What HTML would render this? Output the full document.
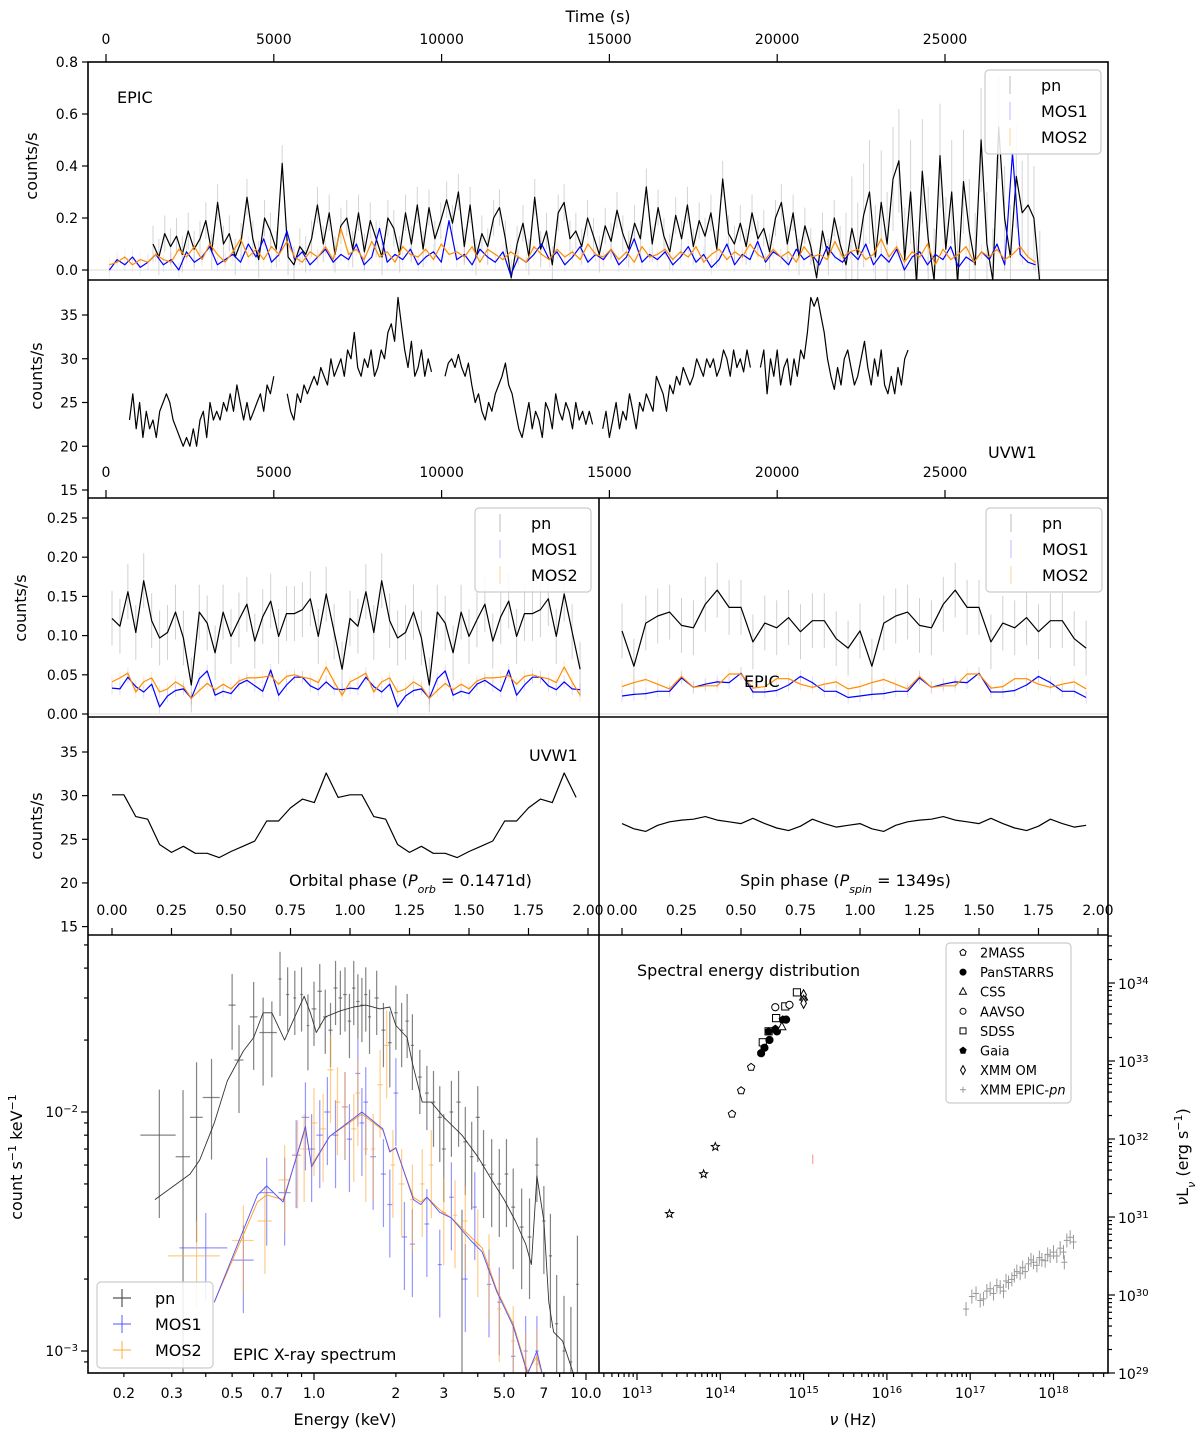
<!DOCTYPE html>
<html><head><meta charset="utf-8"><style>
html,body{margin:0;padding:0;background:#fff;width:1200px;height:1440px;overflow:hidden}
svg{display:block;font-family:"DejaVu Sans","Liberation Sans",sans-serif;overflow:hidden}
</style></head><body>
<svg id="fig" xmlns="http://www.w3.org/2000/svg" width="1200" height="1440" viewBox="0 0 1200 1440" overflow="hidden">
<defs>
<clipPath id="cTop"><rect x="88" y="62" width="1020" height="218"/></clipPath>
<clipPath id="cUv"><rect x="88" y="280" width="1020" height="218"/></clipPath>
<clipPath id="cPL"><rect x="88" y="498" width="511" height="437"/></clipPath>
<clipPath id="cPR"><rect x="599" y="498" width="509" height="437"/></clipPath>
<clipPath id="cSp"><rect x="88" y="935" width="511" height="438"/></clipPath>
<clipPath id="cSed"><rect x="599" y="935" width="509" height="438"/></clipPath>
</defs>
<g id="marks"></g>
<g id="ticks"></g>
<g fill="none" stroke="#000" stroke-width="1.6">
<rect x="88" y="62" width="1020" height="1311"/>
<line x1="88" y1="280" x2="1108" y2="280"/>
<line x1="88" y1="498" x2="1108" y2="498"/>
<line x1="88" y1="717" x2="1108" y2="717"/>
<line x1="88" y1="935" x2="1108" y2="935"/>
<line x1="599" y1="498" x2="599" y2="1373"/>
</g>
<g font-size="16" fill="#000">
<text x="598" y="22" text-anchor="middle">Time (s)</text>
<text x="117" y="103">EPIC</text>
<text x="988" y="458">UVW1</text>
<text x="529" y="761">UVW1</text>
<text x="744" y="687">EPIC</text>
<text x="289" y="886">Orbital phase (<tspan font-style="italic">P</tspan><tspan font-size="11" baseline-shift="sub" font-style="italic">orb</tspan> = 0.1471d)</text>
<text x="740" y="886">Spin phase (<tspan font-style="italic">P</tspan><tspan font-size="11" baseline-shift="sub" font-style="italic">spin</tspan> = 1349s)</text>
<text x="233" y="1360">EPIC X-ray spectrum</text>
<text x="637" y="976">Spectral energy distribution</text>
<text x="345" y="1425" text-anchor="middle">Energy (keV)</text>
<text x="853" y="1425" text-anchor="middle"><tspan font-style="italic">ν</tspan> (Hz)</text>
<text transform="translate(37,166) rotate(-90)" text-anchor="middle">counts/s</text>
<text transform="translate(42,376) rotate(-90)" text-anchor="middle">counts/s</text>
<text transform="translate(26,608) rotate(-90)" text-anchor="middle">counts/s</text>
<text transform="translate(42,826) rotate(-90)" text-anchor="middle">counts/s</text>
<text transform="translate(22,1157) rotate(-90)" text-anchor="middle">count s<tspan font-size="11" baseline-shift="super">−1</tspan> keV<tspan font-size="11" baseline-shift="super">−1</tspan></text>
<text transform="translate(1188,1157) rotate(-90)" text-anchor="middle"><tspan font-style="italic">ν</tspan>L<tspan font-size="11" baseline-shift="sub" font-style="italic">ν</tspan> (erg s<tspan font-size="11" baseline-shift="super">−1</tspan>)</text>
</g>
<g id="legends"></g>
</svg>
<script>
// ---------- data ----------
const pnT0 = 1400, pnStep = 175;
const pnRate = [0.10,0.05,0.14,0.09,0.13,0.06,0.15,0.08,0.12,0.19,0.07,0.26,0.10,0.14,0.05,0.11,0.28,0.12,0.04,0.20,0.15,
0.08,0.41,0.05,0.02,0.09,0.06,0.12,0.25,0.10,0.22,0.06,0.17,0.20,0.08,0.22,0.07,0.19,0.12,0.05,0.20,
0.16,0.06,0.22,0.10,0.25,0.08,0.24,0.12,0.19,0.27,0.18,0.30,0.09,0.25,0.05,0.14,0.09,0.20,0.24,0.12,
-0.03,0.10,0.18,0.05,0.28,0.08,0.15,0.02,0.22,0.26,0.12,0.15,0.09,0.20,0.13,0.06,0.17,0.11,0.23,0.14,
0.08,0.18,0.12,0.32,0.10,0.24,0.13,0.07,0.21,0.12,0.25,0.09,0.19,0.13,0.22,0.08,0.35,0.14,0.10,0.18,
0.09,0.22,0.12,0.16,0.07,0.20,0.26,0.10,0.22,0.05,0.17,0.09,-0.03,0.15,0.05,0.20,0.10,0.02,0.16,0.06,
0.21,0.30,0.05,0.26,0.10,0.35,0.42,0.04,0.30,-0.05,0.38,0.12,-0.04,0.44,0.08,0.30,-0.05,0.34,0.15,0.02,
0.50,0.10,-0.04,0.55,0.20,0.05,0.36,0.22,0.25,0.20,-0.05];
const pnErrEarly = 0.07, pnErrLate = 0.2, pnErrSplit = 22000;
const mosT0 = 100, mosStep = 230;
const mos1Rate = [0.00,0.04,0.02,0.05,0.01,0.03,0.06,0.02,0.04,0.00,
0.07,0.03,0.05,0.09,0.02,0.04,0.06,0.03,0.10,0.05,
0.12,0.03,0.06,0.15,0.04,0.07,0.02,0.05,0.08,0.03,
0.06,0.04,0.10,0.02,0.05,0.16,0.03,0.06,0.04,0.08,
0.02,0.05,0.07,0.03,0.19,0.04,0.06,0.02,0.08,0.05,
0.03,0.07,-0.02,0.05,0.03,0.06,0.10,0.04,0.07,0.02,
0.05,0.09,0.03,0.06,0.04,0.08,0.02,0.05,0.12,0.03,
0.06,0.04,0.07,0.02,0.05,0.09,0.03,0.06,0.01,0.04,
0.10,0.02,0.06,0.04,0.11,0.03,0.07,0.05,0.02,0.08,
0.04,0.06,0.02,0.09,0.05,0.03,0.07,0.04,0.10,0.02,
0.06,0.03,0.08,0.00,0.05,0.07,0.02,0.06,0.04,0.09,
0.01,0.05,0.03,0.07,0.04,0.10,0.02,0.45,0.06,0.03,0.02];
const mos2Rate = [0.02,0.03,0.05,0.02,0.04,0.03,0.06,0.04,0.03,0.08,
0.05,0.09,0.04,0.10,0.06,0.03,0.07,0.12,0.05,0.08,
0.04,0.09,0.06,0.11,0.05,0.03,0.07,0.05,0.09,0.04,
0.16,0.06,0.08,0.04,0.11,0.05,0.07,0.03,0.09,0.06,
0.05,0.08,0.04,0.10,0.06,0.07,0.05,0.09,0.03,0.08,
0.06,0.04,0.07,0.05,0.03,0.09,0.06,0.04,0.08,0.05,
0.07,0.04,0.10,0.06,0.05,0.08,0.04,0.07,0.03,0.09,
0.05,0.06,0.08,0.04,0.07,0.05,0.09,0.03,0.06,0.08,
0.04,0.07,0.05,0.10,0.06,0.04,0.08,0.05,0.07,0.03,
0.09,0.05,0.06,0.04,0.11,0.05,0.07,0.08,0.04,0.06,
0.12,0.05,0.09,0.03,0.07,0.05,0.10,0.02,0.08,0.04,
0.06,0.09,0.03,0.07,0.05,0.08,0.04,0.06,0.09,0.05,0.03];
const uvStep = 100;
const uvSegStart = [700, 5400, 10100, 14800, 19500];
const uvSeg1 = [23,26,22,25,21,24,22,23,21,24,25,26,25,23,22,21,20,21,20,22,20,23,24,21,25,23,24,23,25,24,26,24,27,25,23,25,23,24,25,26,24,27,26,28];
const uvSeg2 = [26,24,23,26,25,27,26,27,28,27,29,28,27,30,28,29,30,28,31,30,33,29,28,30,29,31,28,29,31,30,33,34,32,37,34,31,29,32,28,29,31,28,30,28.5];
const uvSeg3 = [28,29.5,30,29,30.5,29,28,29.5,27,25,26,24,23,25,24,26,27,28,29.5,27,26,24,22,21,23,25,22,24,23,21,25,24,22,26,24,23,25,24,22,25,23,24,22.5,24,22.5];
const uvSeg4 = [22,24,21,23,25,22,24,23,26,24,22,25,24,26,25,24,28,27,26,24,27,26,28,27,29,28,27,28,30,29,28,30,29,30,28,29,31,30,28,31,29,30,28.5,31,29];
const uvSeg5 = [29,31,26,30,28,31,27,29,30,27,30,28,31,30,33,37,36,37,35,33,30,28,26.5,29,27,30,31,29,27,28,30,32,29,27,30,28,31,27,26,28,26,29,27,30,31];
const orbPn = [0.122,0.112,0.156,0.104,0.170,0.119,0.097,0.104,0.130,0.097,0.037,0.130,0.116,0.078,0.130,0.099,0.120,0.140,0.093,0.124,0.144,0.099,0.128,0.128,0.133,0.147,0.099,0.153,0.105,0.057];
const orbMos1 = [0.033,0.032,0.047,0.035,0.028,0.038,0.009,0.023,0.030,0.032,0.020,0.045,0.055,0.024,0.029,0.026,0.038,0.043,0.036,0.029,0.056,0.024,0.037,0.047,0.047,0.036,0.031,0.041,0.032,0.031];
const orbMos2 = [0.041,0.046,0.052,0.028,0.041,0.046,0.028,0.032,0.041,0.035,0.020,0.030,0.039,0.031,0.038,0.032,0.042,0.046,0.046,0.047,0.049,0.038,0.048,0.050,0.047,0.045,0.040,0.060,0.041,0.024];
const orbUv = [30.1,30.1,27.6,27.3,24.4,23.5,24.2,23.4,23.4,22.9,23.6,24.2,24.8,27.1,27.1,28.6,29.6,29.2,32.6,29.8];
const spinPn = [0.106,0.061,0.116,0.125,0.130,0.113,0.110,0.140,0.158,0.136,0.136,0.092,0.116,0.110,0.123,0.105,0.119,0.119,0.096,0.084];
const spinMos1 = [0.023,0.025,0.026,0.029,0.029,0.046,0.034,0.038,0.041,0.040,0.052,0.028,0.028,0.030,0.037,0.048,0.040,0.029,0.029,0.021];
const spinMos2 = [0.035,0.040,0.044,0.038,0.032,0.048,0.034,0.036,0.036,0.051,0.051,0.033,0.035,0.045,0.045,0.038,0.034,0.038,0.041,0.032];
const spinUv = [26.8,26.2,25.9,26.6,27.0,27.2,27.3,27.6,27.2,27.0,26.8,27.4,26.8,26.3,26.0,26.5,27.3,26.8,26.4,26.6];
const phaseErrPn = 0.035, phaseErrMos = 0.008;
const pnE = [0.27,0.33,0.37,0.42,0.50,0.53,0.60,0.65,0.70,0.75,0.80,0.85,0.90,0.95,1.0,1.05,1.1,1.15,1.2,1.25,1.3,1.35,1.4,1.45,1.5,1.55,1.6,1.7,1.8,1.9,2.0,2.1,2.2,2.3,2.45,2.6,2.75,2.9,3.0,3.2,3.4,3.5,3.6,3.8,4.0,4.2,4.5,4.8,5.1,5.4,5.8,6.2,6.6,7.0,7.4,7.8,8.3,8.8,9.3];
const pnV = [8e-3,6.5e-3,9.5e-3,1.15e-2,2.8e-2,1.65e-2,2.5e-2,2.15e-2,2.15e-2,3.6e-2,3.1e-2,3.0e-2,3.1e-2,2.3e-2,2.7e-2,3.2e-2,2.5e-2,2.2e-2,3.3e-2,3.0e-2,3.1e-2,2.4e-2,3.3e-2,2.9e-2,2.8e-2,3.1e-2,2.5e-2,3.0e-2,2.2e-2,1.95e-2,2.6e-2,2.2e-2,2.4e-2,1.9e-2,1.4e-2,1.2e-2,1.1e-2,9.5e-3,7e-3,1.0e-2,1.1e-2,2.0e-3,7.5e-3,6.5e-3,9.5e-3,6e-3,5.5e-3,5e-3,5.5e-3,4e-3,3.3e-3,3e-3,6e-3,3.5e-3,2.5e-3,1.3e-3,1.0e-3,9e-4,1.9e-3];
const pnXw = [0.04,0.02,0.02,0.03,0.015,0.02,0.02,0.02,0.03,0.01,0.01,0.01,0.01,0.01,0.02,0.02,0.02,0.02,0.02,0.02,0.02,0.02,0.02,0.02,0.02,0.02,0.02,0.03,0.03,0.03,0.03,0.03,0.03,0.03,0.04,0.04,0.04,0.05,0.05,0.05,0.06,0.02,0.06,0.06,0.07,0.07,0.08,0.08,0.08,0.09,0.1,0.1,0.1,0.1,0.1,0.1,0.1,0.1,0.1];
const pnYf = [0.55,0.9,0.7,0.45,0.35,0.4,0.4,0.4,0.35,0.3,0.3,0.3,0.3,0.35,0.3,0.3,0.3,0.3,0.3,0.3,0.3,0.3,0.3,0.3,0.3,0.3,0.3,0.3,0.3,0.35,0.3,0.3,0.3,0.35,0.3,0.3,0.35,0.35,0.4,0.35,0.35,0.95,0.4,0.4,0.35,0.4,0.4,0.4,0.4,0.45,0.45,0.45,0.3,0.4,0.5,0.6,0.7,0.7,0.6];
const m1E = [0.40,0.55,0.67,0.78,0.86,0.93,0.98,1.05,1.12,1.2,1.3,1.35,1.45,1.5,1.55,1.65,1.8,1.9,2.0,2.15,2.3,2.6,2.9,3.2,3.6,3.9,4.4,4.8,5.4,6.0,6.6];
const m1V = [2.7e-3,2.4e-3,4.6e-3,4.6e-3,6.6e-3,9.5e-3,7e-3,8e-3,1.0e-2,8e-3,1.05e-2,7.7e-3,1.45e-2,9e-3,1.1e-2,6.5e-3,5.5e-3,4.1e-3,1.2e-2,3e-3,2.8e-3,3.4e-3,2.3e-3,4.4e-3,2.0e-3,4.0e-3,1.9e-3,1.6e-3,9.5e-4,1.0e-3,1.0e-3];
const m1Xw = [0.08,0.05,0.04,0.04,0.03,0.03,0.03,0.03,0.03,0.03,0.03,0.03,0.03,0.03,0.03,0.04,0.04,0.04,0.04,0.05,0.05,0.05,0.05,0.06,0.07,0.07,0.08,0.08,0.1,0.1,0.1];
const m2E = [0.37,0.55,0.66,0.78,0.87,0.92,1.0,1.08,1.15,1.22,1.3,1.4,1.45,1.55,1.65,1.75,1.85,1.95,2.1,2.3,2.5,2.7,3.0,3.3,3.6,4.0,4.4,4.8,5.4,6.0,6.6];
const m2V = [2.5e-3,2.9e-3,3.5e-3,5.2e-3,6.6e-3,7.0e-3,9e-3,8.5e-3,1.5e-2,1.1e-2,1.05e-2,8.5e-3,1.2e-2,7e-3,7e-3,1.3e-2,1.9e-2,6e-3,5e-3,4.3e-3,5e-3,6e-3,3.8e-3,3.7e-3,3.5e-3,2.8e-3,2.2e-3,1.5e-3,1.1e-3,8.5e-4,8.8e-4];
const m2Xw = [0.08,0.05,0.04,0.04,0.03,0.03,0.03,0.03,0.03,0.03,0.03,0.03,0.03,0.03,0.03,0.04,0.04,0.04,0.05,0.05,0.05,0.05,0.06,0.06,0.07,0.07,0.08,0.08,0.1,0.1,0.1];
const mosYf = 0.4;
const pnModelE = [0.26,0.35,0.38,0.43,0.48,0.55,0.6,0.65,0.7,0.78,0.85,0.92,0.97,1.02,1.1,1.25,1.4,1.55,1.75,1.9,2.0,2.2,2.3,2.5,2.7,3.0,3.5,4.0,4.5,5.0,5.5,6.0,6.3,6.6,7.0,7.3,7.6,8.2,9.0];
const pnModelV = [4.3e-3,5.5e-3,6.3e-3,9e-3,1.35e-2,1.8e-2,2.05e-2,2.6e-2,2.6e-2,2.0e-2,2.5e-2,3.05e-2,2.6e-2,2.15e-2,2.5e-2,2.65e-2,2.75e-2,2.8e-2,2.7e-2,2.75e-2,2.3e-2,2.05e-2,1.6e-2,1.1e-2,1.1e-2,9.5e-3,8e-3,6.5e-3,5.2e-3,4.3e-3,3.5e-3,2.8e-3,2.3e-3,5.4e-3,3.5e-3,1.6e-3,1.2e-3,1.1e-3,8e-4];
const mosModelE = [0.43,0.62,0.67,0.77,0.93,0.98,1.14,1.5,1.79,1.9,2.0,2.32,2.47,2.6,2.9,3.2,3.77,4.15,4.7,5.4,6.1,6.6,7.0];
const mos1ModelV = [1.6e-3,4.5e-3,4.9e-3,4.2e-3,8.7e-3,5.9e-3,7.9e-3,1.0e-2,8.5e-3,6.8e-3,7.1e-3,4.3e-3,4.1e-3,4.4e-3,3.8e-3,3.6e-3,2.9e-3,2.6e-3,1.77e-3,1.27e-3,8e-4,1.0e-3,7.5e-4];
const mos2ModelV = [1.6e-3,4.2e-3,4.5e-3,4.3e-3,8.5e-3,6.0e-3,7.9e-3,9.8e-3,8.4e-3,6.9e-3,7.0e-3,4.4e-3,4.2e-3,4.4e-3,3.9e-3,3.6e-3,3.0e-3,2.7e-3,1.8e-3,1.3e-3,8.2e-4,9.5e-4,7.5e-4];
const sedStarNu = [13.39,13.80,13.94], sedStarL = [31.04,31.55,31.90];
const sed2massNu = [14.14,14.25,14.37], sed2massL = [32.32,32.62,32.92];
const sedPanNu = [14.49,14.53,14.59,14.68,14.79], sedPanL = [33.10,33.17,33.27,33.38,33.53];
const sedGaiaNu = [14.58,14.66,14.75], sedGaiaL = [33.38,33.41,33.53];
const sedSdssNu = [14.51,14.67,14.78,14.92,14.58], sedSdssL = [33.24,33.55,33.70,33.88,33.38];
const sedAavsoNu = [14.66,14.83], sedAavsoL = [33.69,33.72];
const sedCssNu = [14.74,15.0], sedCssL = [33.44,33.82];
const sedOmNu = [15.0,15.0,15.0], sedOmL = [33.85,33.78,33.74];
const sedPnNu = [16.95,17.02,17.07,17.12,17.16,17.2,17.24,17.28,17.32,17.36,17.4,17.43,17.46,17.5,17.53,17.56,17.6,17.63,17.66,17.7,17.73,17.76,17.8,17.83,17.86,17.9,17.93,17.96,18.0,18.04,18.08,18.12,18.13,18.16,18.2,18.24];
const sedPnL = [29.82,29.98,30.02,29.93,29.95,30.05,30.08,30.02,30.12,30.1,30.05,30.18,30.16,30.2,30.25,30.3,30.28,30.35,30.3,30.4,30.45,30.42,30.38,30.48,30.45,30.44,30.52,30.5,30.55,30.5,30.6,30.55,30.42,30.7,30.74,30.68];
const timeTicks = [0,5000,10000,15000,20000,25000];
const epicTicks = [0.0,0.2,0.4,0.6,0.8];
const uvTicks = [15,20,25,30,35];
const phaseEpicTicks = [0.00,0.05,0.10,0.15,0.20,0.25];
const phaseTicks = [0.00,0.25,0.50,0.75,1.00,1.25,1.50,1.75,2.00];
const specXMajor = [1,10], specXLabels = {0.2:"0.2",0.3:"0.3",0.5:"0.5",0.7:"0.7",1:"1.0",2:"2",3:"3",5:"5.0",7:"7",10:"10.0"};
const specYMajorExp = [-3,-2];
const sedXExp = [13,14,15,16,17,18];
const sedYExp = [29,30,31,32,33,34];

const tx = t => 106 + t*0.03356;
const yEpic = v => 270 - v*260;
const yUv = v => 315 - (v-35)*8.75;
const pxL = p => 112 + p*238;
const pxR = p => 622 + p*238;
const yPh = v => 714 - v*784;
const yPhUv = v => 752 - (v-35)*8.73;
const sx = E => 314 + 272*Math.log10(E);
const sy = v => 1112 - 239*(Math.log10(v)+2);
const nx = l => 637 + (l-13)*83.3;
const ny = l => 1373 - (l-29)*78;

const NS = "http://www.w3.org/2000/svg";
function mk(tag, attrs, parent){const e=document.createElementNS(NS,tag);for(const k in attrs)e.setAttribute(k,attrs[k]);parent.appendChild(e);return e;}
const marks = document.getElementById('marks');
const ticksG = document.getElementById('ticks');
const legG = document.getElementById('legends');

function grp(clip, name){const g=mk('g',{'clip-path':'url(#'+clip+')'},marks);


return g;}
function poly(g, xs, ys, color, w, name){
  const pts = xs.map((x,i)=>x.toFixed(1)+','+ys[i].toFixed(1)).join(' ');
  const p = mk('polyline',{points:pts,fill:'none',stroke:color,'stroke-width':w,'stroke-linejoin':'round'},g);
  
  
  return p;
}
function vline(g,x,y1,y2,color,w,name){
  const l=mk('line',{x1:x,x2:x,y1:y1,y2:y2,stroke:color,'stroke-width':w},g);
  
  
}
function hline(g,x1,x2,y,color,w,name){
  const l=mk('line',{x1:x1,x2:x2,y1:y,y2:y,stroke:color,'stroke-width':w},g);
  
  
}
function txt(g,x,y,s,anchor,size,name){
  const t=mk('text',{x:x,y:y,'text-anchor':anchor,'font-size':size},g);
  t.innerHTML=s;
  
  
  return t;
}

const gTop = grp('cTop','epic-lightcurve');
hline(gTop,88,1108,yEpic(0),'#ddd',1,'zero-line');
const pnTimes = pnRate.map((v,i)=>pnT0+i*pnStep);
const mosTimes = mos1Rate.map((v,i)=>mosT0+i*mosStep);
pnRate.forEach((v,i)=>{const e=pnTimes[i]>pnErrSplit?pnErrLate:pnErrEarly;vline(gTop,tx(pnTimes[i]),yEpic(v-e),yEpic(v+e),'#d4d4d4',1,'pn-errorbar');});
mos1Rate.forEach((v,i)=>vline(gTop,tx(mosTimes[i]),yEpic(v-0.03),yEpic(v+0.03),'rgba(120,120,255,0.15)',1,'mos1-errorbar'));
mos2Rate.forEach((v,i)=>vline(gTop,tx(mosTimes[i]),yEpic(v-0.03),yEpic(v+0.03),'rgba(255,160,60,0.15)',1,'mos2-errorbar'));
poly(gTop,pnTimes.map(tx),pnRate.map(yEpic),'#000',1.2,'pn-lightcurve');
poly(gTop,mosTimes.map(tx),mos1Rate.map(yEpic),'#0000ff',1.2,'mos1-lightcurve');
poly(gTop,mosTimes.map(tx),mos2Rate.map(yEpic),'#ff8c00',1.2,'mos2-lightcurve');

const gUv = grp('cUv','uvw1-lightcurve');
[uvSeg1,uvSeg2,uvSeg3,uvSeg4,uvSeg5].forEach((seg,k)=>{
  const ts = seg.map((v,i)=>uvSegStart[k]+i*uvStep);
  poly(gUv,ts.map(tx),seg.map(yUv),'#000',1.2,'uvw1-segment');
});

function rep2(a){return a.concat(a);}
const gPL = grp('cPL','orbital-phase-panels');
const gPR = grp('cPR','spin-phase-panels');
hline(gPL,88,599,yPh(0),'#ddd',1,'zero-line');
hline(gPR,599,1108,yPh(0),'#ddd',1,'zero-line');
function drawPhase(g,px,pn,m1,m2,uv,tag){
  const n=pn.length, ph=rep2(pn).map((v,i)=>i/n);
  rep2(pn).forEach((v,i)=>vline(g,px(ph[i]),yPh(v-phaseErrPn),yPh(v+phaseErrPn),'#d0d0d0',1,tag+'-pn-errorbar'));
  rep2(m1).forEach((v,i)=>vline(g,px(ph[i]),yPh(v-phaseErrMos),yPh(v+phaseErrMos),'rgba(120,120,255,0.25)',1,tag+'-mos1-errorbar'));
  rep2(m2).forEach((v,i)=>vline(g,px(ph[i]),yPh(v-phaseErrMos),yPh(v+phaseErrMos),'rgba(255,160,60,0.25)',1,tag+'-mos2-errorbar'));
  poly(g,ph.map(px),rep2(pn).map(yPh),'#000',1.2,tag+'-pn-line');
  poly(g,ph.map(px),rep2(m1).map(yPh),'#0000ff',1.2,tag+'-mos1-line');
  poly(g,ph.map(px),rep2(m2).map(yPh),'#ff8c00',1.2,tag+'-mos2-line');
  const nu=uv.length, phu=rep2(uv).map((v,i)=>i/nu);
  poly(g,phu.map(px),rep2(uv).map(yPhUv),'#000',1.2,tag+'-uvw1-line');
}
drawPhase(gPL,pxL,orbPn,orbMos1,orbMos2,orbUv,'orbital');
drawPhase(gPR,pxR,spinPn,spinMos1,spinMos2,spinUv,'spin');

const gSp = grp('cSp','xray-spectrum');
function specPts(E,V,Xw,Yf,color,name){
  E.forEach((e,i)=>{
    const yf = Array.isArray(Yf)?Yf[i]:Yf;
    hline(gSp,sx(e-Xw[i]),sx(e+Xw[i]),sy(V[i]),color,1.2,name+'-xerr');
    vline(gSp,sx(e),sy(Math.max(V[i]*(1-yf),1e-4)),sy(V[i]*(1+yf)),color,1.2,name+'-yerr');
  });
}
specPts(pnE,pnV,pnXw,pnYf,'rgba(90,90,90,0.75)','pn-spectrum-point');
specPts(m1E,m1V,m1Xw,mosYf,'rgba(80,80,255,0.6)','mos1-spectrum-point');
specPts(m2E,m2V,m2Xw,mosYf,'rgba(255,170,60,0.6)','mos2-spectrum-point');
poly(gSp,pnModelE.map(sx),pnModelV.map(sy),'#333',0.9,'pn-model');
poly(gSp,mosModelE.map(sx),mos2ModelV.map(sy),'#ff9a20',0.9,'mos2-model');
poly(gSp,mosModelE.map(sx),mos1ModelV.map(sy),'#5050ff',0.9,'mos1-model');

const gSed = grp('cSed','sed-plot');
function sedMarker(shape,x,y,fill,name){
  let e;
  if(shape==='circle') e=mk('circle',{cx:x,cy:y,r:3.6,fill:fill,stroke:'#000','stroke-width':1},gSed);
  else if(shape==='square') e=mk('rect',{x:x-3.6,y:y-3.6,width:7.2,height:7.2,fill:fill,stroke:'#000','stroke-width':1},gSed);
  else {
    let pts;
    if(shape==='tri') pts=[[0,-4.5],[4,3],[-4,3]];
    else if(shape==='diamond') pts=[[0,-5],[2.8,0],[0,5],[-2.8,0]];
    else if(shape==='pent') pts=[0,1,2,3,4].map(k=>[3.8*Math.sin(k*1.2566),-3.8*Math.cos(k*1.2566)]);
    else if(shape==='star') pts=[0,1,2,3,4,5,6,7,8,9].map(k=>{const r=k%2?1.8:4.2;return [r*Math.sin(k*0.6283),-r*Math.cos(k*0.6283)];});
    e=mk('polygon',{points:pts.map(p=>(x+p[0]).toFixed(1)+','+(y+p[1]).toFixed(1)).join(' '),fill:fill,stroke:'#000','stroke-width':1},gSed);
  }
  
  
}
sedStarNu.forEach((n,i)=>sedMarker('star',nx(n),ny(sedStarL[i]),'#fff','wise-point'));
sed2massNu.forEach((n,i)=>sedMarker('pent',nx(n),ny(sed2massL[i]),'#fff','2mass-point'));
sedSdssNu.forEach((n,i)=>sedMarker('square',nx(n),ny(sedSdssL[i]),'#fff','sdss-point'));
sedPanNu.forEach((n,i)=>sedMarker('circle',nx(n),ny(sedPanL[i]),'#000','panstarrs-point'));
sedGaiaNu.forEach((n,i)=>sedMarker('pent',nx(n),ny(sedGaiaL[i]),'#000','gaia-point'));
sedAavsoNu.forEach((n,i)=>sedMarker('circle',nx(n),ny(sedAavsoL[i]),'#fff','aavso-point'));
sedCssNu.forEach((n,i)=>sedMarker('tri',nx(n),ny(sedCssL[i]),'#fff','css-point'));
sedOmNu.forEach((n,i)=>sedMarker('diamond',nx(n),ny(sedOmL[i]),'#fff','xmm-om-point'));
sedPnNu.forEach((n,i)=>{
  hline(gSed,nx(n)-3,nx(n)+3,ny(sedPnL[i]),'#999',1,'epic-pn-sed-xerr');
  vline(gSed,nx(n),ny(sedPnL[i]-0.09),ny(sedPnL[i]+0.09),'#999',1,'epic-pn-sed-yerr');
});
vline(gSed,nx(15.11),ny(31.68),ny(31.80),'#f88',1,'om-uv-marker');

function tick(x1,y1,x2,y2,name){
  const l=mk('line',{x1:x1,y1:y1,x2:x2,y2:y2,stroke:'#000','stroke-width':1.2},ticksG);
  
  
}
function yAxisLeft(vals,fy,fmt,name){vals.forEach(v=>{const y=fy(v);tick(82,y,88,y,name+'-tick');txt(ticksG,78,y+5,fmt(v),'end',14,name+'-tick-label');});}
timeTicks.forEach(t=>{tick(tx(t),54,tx(t),62,'time-top-tick');txt(ticksG,tx(t),44,String(t),'middle',14,'time-top-tick-label');
  tick(tx(t),490,tx(t),498,'time-bottom-tick');txt(ticksG,tx(t),477,String(t),'middle',14,'time-bottom-tick-label');});
yAxisLeft(epicTicks,yEpic,v=>v.toFixed(1),'epic-y');
yAxisLeft(uvTicks,yUv,v=>String(v),'uvw1-y');
yAxisLeft(phaseEpicTicks,yPh,v=>v.toFixed(2),'phase-epic-y');
yAxisLeft(uvTicks,yPhUv,v=>String(v),'phase-uvw1-y');
phaseTicks.forEach(p=>{
  tick(pxL(p),928,pxL(p),935,'orbital-phase-tick');txt(ticksG,pxL(p),915,p.toFixed(2),'middle',14,'orbital-phase-tick-label');
  tick(pxR(p),928,pxR(p),935,'spin-phase-tick');txt(ticksG,pxR(p),915,p.toFixed(2),'middle',14,'spin-phase-tick-label');
});
[0.2,0.3,0.4,0.5,0.6,0.7,0.8,0.9,1,2,3,4,5,6,7,8,9,10].forEach(e=>{
  const major=specXMajor.includes(e);const x=sx(e);
  tick(x,1373,x,1373+(major?7:4),'energy-tick');
  if(specXLabels[e]) txt(ticksG,x,1398,specXLabels[e],'middle',14,'energy-tick-label');
});
specYMajorExp.forEach(p=>{const y=sy(Math.pow(10,p));tick(81,y,88,y,'spectrum-y-tick');
  txt(ticksG,78,y+5,'10<tspan font-size="10" baseline-shift="super">−'+(-p)+'</tspan>','end',14,'spectrum-y-tick-label');});
[9e-4,2e-3,3e-3,4e-3,5e-3,6e-3,7e-3,8e-3,9e-3,2e-2,3e-2,4e-2,5e-2].forEach(v=>{const y=sy(v);tick(84,y,88,y,'spectrum-y-minor-tick');});
for(let d=12;d<=18;d++){for(let m=1;m<10;m++){const l=d+Math.log10(m);const x=nx(l);if(x<600||x>1107)continue;
  tick(x,1373,x,1373+(m===1?7:4),'nu-tick');}}
sedXExp.forEach(d=>txt(ticksG,nx(d),1398,'10<tspan font-size="10" baseline-shift="super">'+d+'</tspan>','middle',14,'nu-tick-label'));
for(let d=29;d<=34;d++){for(let m=1;m<10;m++){const l=d+Math.log10(m);const y=ny(l);if(y<936)continue;
  tick(1108,y,1108+(m===1?7:4),y,'sed-y-tick');}}
sedYExp.forEach(d=>txt(ticksG,1118,ny(d)+6,'10<tspan font-size="10" baseline-shift="super">'+d+'</tspan>','start',14,'sed-y-tick-label'));

function legendBox(x,y,w,h,name){const r=mk('rect',{x:x,y:y,width:w,height:h,rx:4,fill:'rgba(255,255,255,0.85)',stroke:'#ccc','stroke-width':1.2},legG);
  
  }
const legNames = ['pn','MOS1','MOS2'];
const legColors = ['#bbb','rgba(120,120,255,0.5)','rgba(255,170,60,0.5)'];
function lcLegend(x,y,name){legendBox(x,y,116,84,name);
  legNames.forEach((n,i)=>{const cy=y+15+i*26;vline(legG,x+25,cy-9,cy+9,legColors[i],1,name+'-swatch');txt(legG,x+56,cy+6,n,'start',16,name+'-entry');});}
lcLegend(985,70,'epic-legend');
lcLegend(475,508,'orbital-legend');
lcLegend(986,508,'spin-legend');
legendBox(97,1282,116,86,'spectrum-legend');
const specLegColors=['#555','rgba(80,80,255,0.8)','rgba(255,170,60,0.8)'];
legNames.forEach((n,i)=>{const cy=1298+i*26;hline(legG,113,131,cy,specLegColors[i],1.2,'spectrum-legend-swatch');vline(legG,122,cy-9,cy+9,specLegColors[i],1.2,'spectrum-legend-swatch');
  txt(legG,155,cy+6,n,'start',16,'spectrum-legend-entry');});
legendBox(946,943,125,160,'sed-legend');
const sedLegNames=['2MASS','PanSTARRS','CSS','AAVSO','SDSS','Gaia','XMM OM','XMM EPIC-<tspan font-style="italic">pn</tspan>'];
const sedLegShapes=[['pent','#fff'],['circle','#000'],['tri','#fff'],['circle','#fff'],['square','#fff'],['pent','#000'],['diamond','#fff'],['plus','#999']];
sedLegNames.forEach((n,i)=>{const cy=952.5+i*19.6;
  const s=sedLegShapes[i];
  if(s[0]==='plus'){hline(legG,960,966,cy,'#999',1,'sed-legend-swatch');vline(legG,963,cy-3,cy+3,'#999',1,'sed-legend-swatch');}
  else{const tmp=mk('g',{},legG);
    const x=963,y=cy;let e;
    if(s[0]==='circle') e=mk('circle',{cx:x,cy:y,r:3,fill:s[1],stroke:'#000','stroke-width':1},tmp);
    else if(s[0]==='square') e=mk('rect',{x:x-3,y:y-3,width:6,height:6,fill:s[1],stroke:'#000','stroke-width':1},tmp);
    else {let pts;
      if(s[0]==='tri') pts=[[0,-4],[3.5,2.5],[-3.5,2.5]];
      else if(s[0]==='diamond') pts=[[0,-4.5],[2.5,0],[0,4.5],[-2.5,0]];
      else pts=[0,1,2,3,4].map(k=>[3.3*Math.sin(k*1.2566),-3.3*Math.cos(k*1.2566)]);
      e=mk('polygon',{points:pts.map(p=>(x+p[0]).toFixed(1)+','+(y+p[1]).toFixed(1)).join(' '),fill:s[1],stroke:'#000','stroke-width':1},tmp);}
    
    
  }
  txt(legG,980,cy+5,n,'start',13,'sed-legend-entry');
});
</script>
</body></html>
